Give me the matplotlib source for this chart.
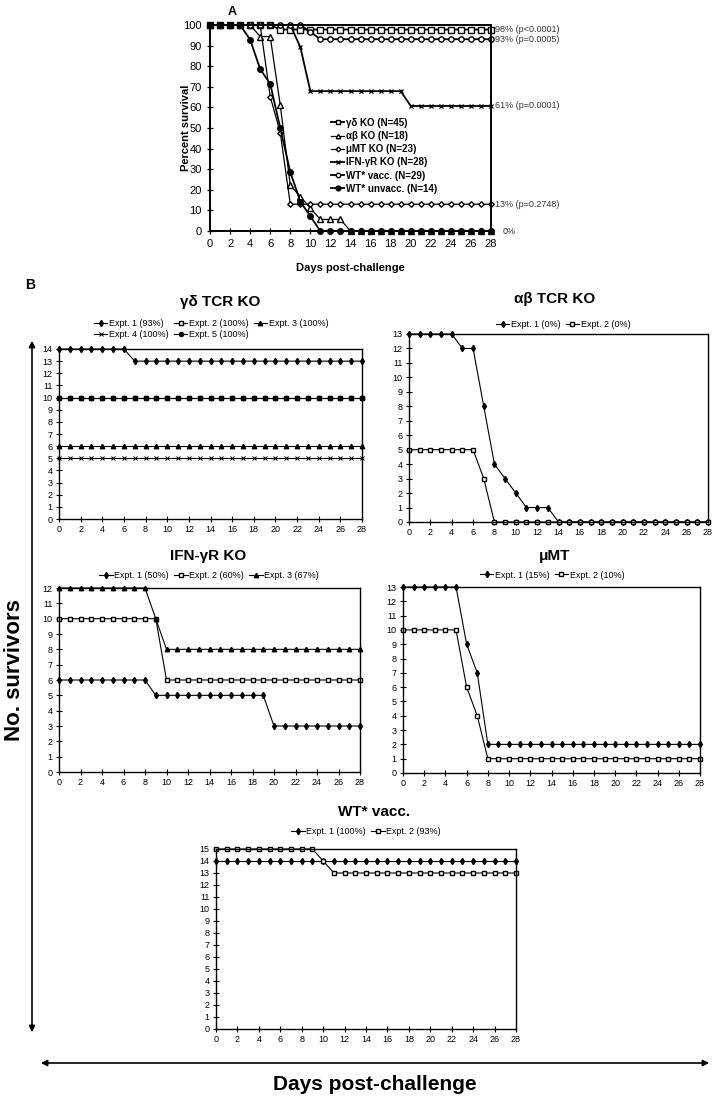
import matplotlib.pyplot as plt
from matplotlib.patches import FancyArrowPatch

plt.rcParams['font.family'] = ['Liberation Sans', 'DejaVu Sans']

W, H = 718, 1102

days = list(range(29))

# ---- panel A: percent survival, pooled
a_labels = ["\u03b3\u03b4 KO (N=45)", "\u03b1\u03b2 KO (N=18)", "\u03bcMT KO (N=23)",
            "IFN-\u03b3R KO (N=28)", "WT* vacc. (N=29)", "WT* unvacc. (N=14)"]
a_gd = [100, 100, 100, 100, 100, 100, 100, 97.8, 97.8, 97.8, 97.8, 97.8, 97.8, 97.8, 97.8,
        97.8, 97.8, 97.8, 97.8, 97.8, 97.8, 97.8, 97.8, 97.8, 97.8, 97.8, 97.8, 97.8, 97.8]
a_ab = [100, 100, 100, 100, 100, 94.4, 94.4, 61.1, 22.2, 16.7, 11.1, 5.6, 5.6, 5.6, 0,
        0, 0, 0, 0, 0, 0, 0, 0, 0, 0, 0, 0, 0, 0]
a_mu = [100, 100, 100, 100, 100, 100, 65.2, 47.8, 13.0, 13.0, 13.0, 13.0, 13.0, 13.0, 13.0,
        13.0, 13.0, 13.0, 13.0, 13.0, 13.0, 13.0, 13.0, 13.0, 13.0, 13.0, 13.0, 13.0, 13.0]
a_ifn = [100, 100, 100, 100, 100, 100, 100, 100, 100, 89.3, 67.9, 67.9, 67.9, 67.9, 67.9,
         67.9, 67.9, 67.9, 67.9, 67.9, 60.7, 60.7, 60.7, 60.7, 60.7, 60.7, 60.7, 60.7, 60.7]
a_wtv = [100, 100, 100, 100, 100, 100, 100, 100, 100, 100, 96.6, 93.1, 93.1, 93.1, 93.1,
         93.1, 93.1, 93.1, 93.1, 93.1, 93.1, 93.1, 93.1, 93.1, 93.1, 93.1, 93.1, 93.1, 93.1]
a_wtu = [100, 100, 100, 100, 92.9, 78.6, 71.4, 50.0, 28.6, 14.3, 7.1, 0, 0, 0, 0,
         0, 0, 0, 0, 0, 0, 0, 0, 0, 0, 0, 0, 0, 0]
a_notes = ["98% (p<0.0001)", "93% (p=0.0005)", "61% (p=0.0001)", "13% (p=0.2748)", "0%"]
a_note_levels = [98, 93, 61, 13, 0]

# ---- panel B: number of survivors per experiment
gd_e1 = [14, 14, 14, 14, 14, 14, 14, 13, 13, 13, 13, 13, 13, 13, 13,
         13, 13, 13, 13, 13, 13, 13, 13, 13, 13, 13, 13, 13, 13]
gd_e2 = [10, 10, 10, 10, 10, 10, 10, 10, 10, 10, 10, 10, 10, 10, 10,
         10, 10, 10, 10, 10, 10, 10, 10, 10, 10, 10, 10, 10, 10]
gd_e3 = [6, 6, 6, 6, 6, 6, 6, 6, 6, 6, 6, 6, 6, 6, 6,
         6, 6, 6, 6, 6, 6, 6, 6, 6, 6, 6, 6, 6, 6]
gd_e4 = [5, 5, 5, 5, 5, 5, 5, 5, 5, 5, 5, 5, 5, 5, 5,
         5, 5, 5, 5, 5, 5, 5, 5, 5, 5, 5, 5, 5, 5]
gd_e5 = [10, 10, 10, 10, 10, 10, 10, 10, 10, 10, 10, 10, 10, 10, 10,
         10, 10, 10, 10, 10, 10, 10, 10, 10, 10, 10, 10, 10, 10]
gd_labels = ["Expt. 1 (93%)", "Expt. 2 (100%)", "Expt. 3 (100%)", "Expt. 4 (100%)", "Expt. 5 (100%)"]

ab_e1 = [13, 13, 13, 13, 13, 12, 12, 8, 4, 3, 2, 1, 1, 1, 0,
         0, 0, 0, 0, 0, 0, 0, 0, 0, 0, 0, 0, 0, 0]
ab_e2 = [5, 5, 5, 5, 5, 5, 5, 3, 0, 0, 0, 0, 0, 0, 0,
         0, 0, 0, 0, 0, 0, 0, 0, 0, 0, 0, 0, 0, 0]
ab_labels = ["Expt. 1 (0%)", "Expt. 2 (0%)"]

ifn_e1 = [6, 6, 6, 6, 6, 6, 6, 6, 6, 5, 5, 5, 5, 5, 5,
          5, 5, 5, 5, 5, 3, 3, 3, 3, 3, 3, 3, 3, 3]
ifn_e2 = [10, 10, 10, 10, 10, 10, 10, 10, 10, 10, 6, 6, 6, 6, 6,
          6, 6, 6, 6, 6, 6, 6, 6, 6, 6, 6, 6, 6, 6]
ifn_e3 = [12, 12, 12, 12, 12, 12, 12, 12, 12, 10, 8, 8, 8, 8, 8,
          8, 8, 8, 8, 8, 8, 8, 8, 8, 8, 8, 8, 8, 8]
ifn_labels = ["Expt. 1 (50%)", "Expt. 2 (60%)", "Expt. 3 (67%)"]

mu_e1 = [13, 13, 13, 13, 13, 13, 9, 7, 2, 2, 2, 2, 2, 2, 2,
         2, 2, 2, 2, 2, 2, 2, 2, 2, 2, 2, 2, 2, 2]
mu_e2 = [10, 10, 10, 10, 10, 10, 6, 4, 1, 1, 1, 1, 1, 1, 1,
         1, 1, 1, 1, 1, 1, 1, 1, 1, 1, 1, 1, 1, 1]
mu_labels = ["Expt. 1 (15%)", "Expt. 2 (10%)"]

wt_e1 = [14, 14, 14, 14, 14, 14, 14, 14, 14, 14, 14, 14, 14, 14, 14,
         14, 14, 14, 14, 14, 14, 14, 14, 14, 14, 14, 14, 14, 14]
wt_e2 = [15, 15, 15, 15, 15, 15, 15, 15, 15, 15, 14, 13, 13, 13, 13,
         13, 13, 13, 13, 13, 13, 13, 13, 13, 13, 13, 13, 13, 13]
wt_labels = ["Expt. 1 (100%)", "Expt. 2 (93%)"]


def rect(x0, y0, x1, y1):
    return [x0 / W, 1 - y1 / H, (x1 - x0) / W, (y1 - y0) / H]


def fx(x):
    return x / W


def fy(y):
    return 1 - y / H


fig = plt.figure(figsize=(W / 100, H / 100), dpi=100)

# ---------------- panel A
axA = fig.add_axes(rect(210, 25, 491, 231))
a_styles = [
    dict(marker='s', ms=3.8, mfc='white', lw=1.3),
    dict(marker='^', ms=3.8, mfc='white', lw=0.9),
    dict(marker='D', ms=2.8, mfc='white', lw=0.9),
    dict(marker='x', ms=3.5, mew=0.9, lw=1.3),
    dict(marker='o', ms=3.8, mfc='white', lw=1.3),
    dict(marker='o', ms=4.0, mfc='black', lw=1.3),
]
for vals, lab, st in zip([a_gd, a_ab, a_mu, a_ifn, a_wtv, a_wtu], a_labels, a_styles):
    axA.plot(days, vals, color='black', mec='black', clip_on=False, label=lab, **st)
axA.set_xlim(0, 28)
axA.set_ylim(0, 100)
axA.set_xticks(range(0, 29, 2))
axA.set_yticks(range(0, 101, 10))
axA.tick_params(direction='inout', length=4, width=0.9, labelsize=8, pad=4)
for s in axA.spines.values():
    s.set_linewidth(1.4)
legA = axA.legend(loc='upper left', bbox_to_anchor=(fx(326), fy(113)),
                  bbox_transform=fig.transFigure, frameon=False, fontsize=7,
                  handlelength=1.4, handletextpad=0.2, labelspacing=0.33,
                  borderpad=0, markerscale=0.85)
for t in legA.get_texts():
    t.set_fontweight('bold')
for note, lvl in zip(a_notes, a_note_levels):
    xoff = 503 if note == "0%" else 495
    ypix = 231 - lvl * 2.06
    fig.text(fx(xoff), fy(ypix), note, fontsize=6.5, color='#333333', va='center', ha='left')
fig.text(fx(232), fy(12), "A", fontsize=9, fontweight='bold', ha='center', va='center')
fig.text(fx(186), fy(128), "Percent survival", fontsize=8, fontweight='bold',
         rotation=90, ha='center', va='center')
fig.text(fx(350), fy(268), "Days post-challenge", fontsize=8, fontweight='bold',
         ha='center', va='center')

# ---------------- panel B
b_styles = [
    dict(marker='d', ms=3.2, mfc='black'),
    dict(marker='s', ms=2.8, mfc='white'),
    dict(marker='^', ms=3.2, mfc='black'),
    dict(marker='x', ms=2.8, mew=0.7),
    dict(marker='o', ms=3.0, mfc='black'),
]


def survivors_panel(box, ymax, series, labels, title, title_xy, leg_xy, ncol, order=None):
    ax = fig.add_axes(rect(*box))
    handles = []
    for vals, lab, st in zip(series, labels, b_styles):
        h, = ax.plot(days, vals, color='black', mec='black', lw=0.8, clip_on=False,
                     label=lab, **st)
        handles.append(h)
    ax.set_xlim(0, 28)
    ax.set_ylim(0, ymax)
    ax.set_xticks(range(0, 29, 2))
    ax.set_yticks(range(0, ymax + 1))
    ax.tick_params(direction='inout', length=4, width=0.8, labelsize=6.5, pad=2.5)
    for s in ax.spines.values():
        s.set_linewidth(1.0)
    if order is not None:
        handles = [handles[i] for i in order]
    fig.legend(handles=handles, loc='center', bbox_to_anchor=(fx(leg_xy[0]), fy(leg_xy[1])),
               ncol=ncol, frameon=False, fontsize=6.5, handlelength=1.5,
               handletextpad=0.15, columnspacing=0.6, labelspacing=0.2, borderpad=0)
    fig.text(fx(title_xy[0]), fy(title_xy[1]), title, fontsize=11, fontweight='bold',
             ha='center', va='center')
    return ax


survivors_panel((59, 349, 362, 519), 14, [gd_e1, gd_e2, gd_e3, gd_e4, gd_e5], gd_labels,
                "\u03b3\u03b4 TCR KO", (220, 302), (211, 329), 3, order=[0, 3, 1, 4, 2])
survivors_panel((409, 334, 708, 522), 13, [ab_e1, ab_e2], ab_labels,
                "\u03b1\u03b2 TCR KO", (555, 299), (563, 325), 2)
survivors_panel((59, 588, 360, 772), 12, [ifn_e1, ifn_e2, ifn_e3], ifn_labels,
                "IFN-\u03b3R KO", (208, 556), (209, 576), 3)
survivors_panel((403, 587, 700, 773), 13, [mu_e1, mu_e2], mu_labels,
                "\u03bcMT", (555, 556), (552, 575), 2)
survivors_panel((216, 849, 516, 1029), 15, [wt_e1, wt_e2], wt_labels,
                "WT* vacc.", (374, 812), (366, 832), 2)

fig.text(fx(30), fy(285), "B", fontsize=10, fontweight='bold', ha='center', va='center')

# big shared axis arrows
fig.patches.append(FancyArrowPatch((fx(32), fy(338)), (fx(32), fy(1035)),
                                   transform=fig.transFigure, arrowstyle='<|-|>',
                                   mutation_scale=9, lw=1.2, color='black'))
fig.patches.append(FancyArrowPatch((fx(38), fy(1063)), (fx(712), fy(1063)),
                                   transform=fig.transFigure, arrowstyle='<|-|>',
                                   mutation_scale=9, lw=1.2, color='black'))
fig.text(fx(15), fy(670), "No. survivors", fontsize=16, fontweight='bold',
         rotation=90, ha='center', va='center')
fig.text(fx(375), fy(1084), "Days post-challenge", fontsize=15, fontweight='bold',
         ha='center', va='center')

fig.savefig("out.png", dpi=100)
